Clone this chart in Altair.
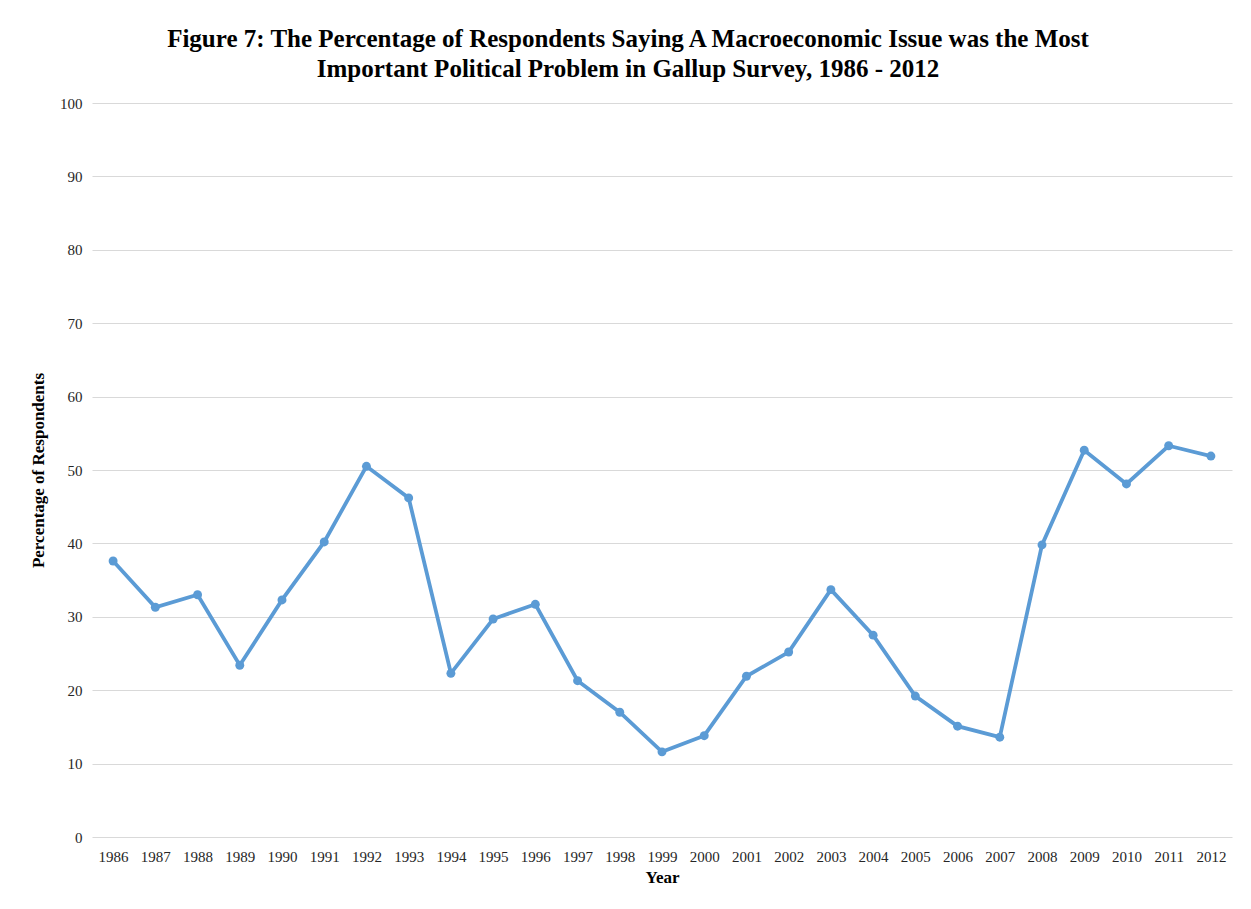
import altair as alt
import pandas as pd

# Gallup "most important problem": share naming a macroeconomic issue
years = [str(y) for y in range(1986, 2013)]
percent = [37.6, 31.3, 33.0, 23.4, 32.3, 40.2, 50.5, 46.2, 22.3, 29.7,
           31.7, 21.3, 17.0, 11.6, 13.8, 21.9, 25.2, 33.7, 27.5, 19.2,
           15.1, 13.6, 39.8, 52.7, 48.1, 53.3, 51.9]

df = pd.DataFrame({"Year": years, "Percent": percent})

serif = "Liberation Serif"
blue = "#5b9bd5"

base = alt.Chart(df).encode(
    x=alt.X("Year:N", sort=years,
            scale=alt.Scale(paddingInner=0, paddingOuter=0),
            axis=alt.Axis(title="Year", labelAngle=0, labelFont=serif,
                          labelFontSize=15, labelColor="#262626",
                          labelPadding=12, titleFont=serif, titleFontSize=17,
                          titleFontWeight="bold", titleColor="#000000",
                          titlePadding=5, ticks=False, domain=False,
                          grid=False)),
    y=alt.Y("Percent:Q",
            scale=alt.Scale(domain=[0, 100]),
            axis=alt.Axis(title="Percentage of Respondents", values=list(range(0, 101, 10)),
                          labelFont=serif, labelFontSize=15,
                          labelColor="#262626", labelPadding=10,
                          titleFont=serif, titleFontSize=17,
                          titleFontWeight="bold", titleColor="#000000",
                          titlePadding=12, ticks=False, domain=False,
                          grid=True, gridColor="#d9d9d9", gridWidth=1)),
)

line = base.mark_line(color=blue, strokeWidth=3.8)
points = base.mark_point(color=blue, filled=True, size=80, opacity=1)

chart = (line + points).properties(
    width=1140,
    height=734,
    title=alt.TitleParams(
        text=["Figure 7: The Percentage of Respondents Saying A Macroeconomic Issue was the Most",
              "Important  Political Problem in  Gallup Survey, 1986 - 2012"],
        font=serif, fontSize=25, fontWeight="bold", color="#000000",
        lineHeight=30, anchor="middle", dx=-34, offset=14),
    padding={"left": 92, "top": 103, "right": 19, "bottom": 72},
    autosize=alt.AutoSizeParams(type="none"),
).configure(background="#ffffff").configure_view(stroke=None)

chart.save("out.html", embed_options={"renderer": "svg", "actions": False})
